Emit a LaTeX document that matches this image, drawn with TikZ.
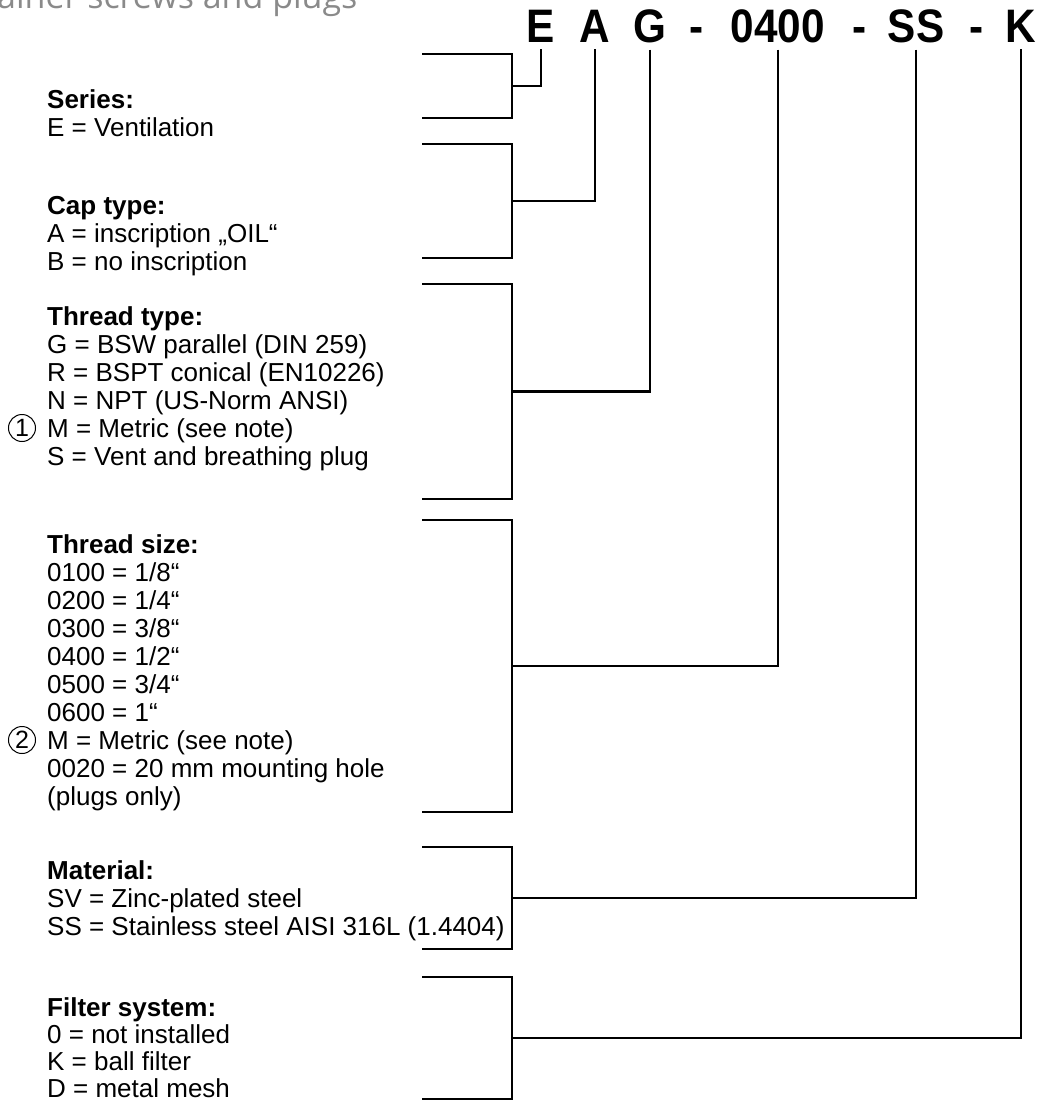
\documentclass[tikz,border=0pt]{standalone}
\usepackage{fontspec}
\setmainfont{Liberation Sans}
\newfontfamily\titlefont{Open Sans}
\usetikzlibrary{calc, positioning}
\definecolor{titlegray}{RGB}{138,138,138}
\newcommand{\codetxt}[1]{\scalebox{0.9}[1]{#1}}

\begin{document}
\begin{tikzpicture}[x=1pt, y=-1pt,
  code/.style={font=\fontsize{47}{47}\selectfont\bfseries, inner sep=0pt, anchor=base},
  entry/.style={font=\fontsize{26}{28}\selectfont, inner sep=0pt, anchor=base west},
  head/.style={entry, font=\fontsize{26}{28}\selectfont\bfseries},
  callout/.style={circle, draw, line width=1pt, minimum size=27pt, inner sep=0pt, font=\fontsize{25}{25}\selectfont},
  link/.style={line width=2.6pt}]
\useasboundingbox (0,0) rectangle (1038,1102);
\clip (0,0) rectangle (1038,1102);

% Title, cut off at the top edge
\node[titlegray, font=\titlefont\fontsize{34}{34}\selectfont, inner sep=0pt, anchor=base west] (title) at (-3,9) {ainer screws and plugs};

% Order code
\node[code] (cE) at (541,43) {\codetxt{E}};
\node[code] (cA) at (595,43) {\codetxt{A}};
\node[code] (cG) at (650,43) {\codetxt{G}};
\node[code] (d1) at (697,43) {\codetxt{-}};
\node[code] (cSize) at (778,43) {\codetxt{0400}};
\node[code] (d2) at (860,43) {\codetxt{-}};
\node[code] (cMat) at (916,43) {\codetxt{SS}};
\node[code] (d3) at (977,43) {\codetxt{-}};
\node[code] (cK) at (1021,43) {\codetxt{K}};

% Series
\node[head] (serH) at (47,109) {Series:};
\foreach \txt [count=\i] in {{E = Ventilation}}
  \node[entry] (ser\i) at (47,{109+28*\i}) {\txt};

% Cap type
\node[head] (capH) at (47,214) {Cap type:};
\foreach \txt [count=\i] in {{A = inscription „OIL“}, {B = no inscription}}
  \node[entry] (cap\i) at (47,{214+28*\i}) {\txt};

% Thread type
\node[head] (thrH) at (47,325) {Thread type:};
\foreach \txt [count=\i] in {{G = BSW parallel (DIN 259)}, {R = BSPT conical (EN10226)},
    {N = NPT (US-Norm ANSI)}, {M = Metric (see note)}, {S = Vent and breathing plug}}
  \node[entry] (thr\i) at (47,{325+28*\i}) {\txt};

% Thread size
\node[head] (sizH) at (47,553) {Thread size:};
\foreach \txt [count=\i] in {{0100 = 1/8“}, {0200 = 1/4“}, {0300 = 3/8“}, {0400 = 1/2“},
    {0500 = 3/4“}, {0600 = 1“}, {M = Metric (see note)}, {0020 = 20 mm mounting hole}, {(plugs only)}}
  \node[entry] (siz\i) at (47,{553+28*\i}) {\txt};

% Material
\node[head] (matH) at (47,879) {Material:};
\foreach \txt [count=\i] in {{SV = Zinc-plated steel}, {SS = Stainless steel AISI 316L (1.4404)}}
  \node[entry] (mat\i) at (47,{879+28*\i}) {\txt};

% Filter system
\node[head] (filH) at (47,1016) {Filter system:};
\foreach \txt [count=\i] in {{0 = not installed}, {K = ball filter}, {D = metal mesh}}
  \node[entry] (fil\i) at (47,{1016+27*\i}) {\txt};

% Notes on the metric entries
\node[callout] (note1) at (22,428) {1};
\node[callout] (note2) at (22,740) {2};

% Brackets
\foreach \nm/\top/\bot in {ser/54/118, cap/144/258, thr/284/499, siz/520/812, mat/847/949, fil/977/1099} {
  \draw[link] (422,\top) -- (512,\top) -- (512,\bot) -- (422,\bot);
  \coordinate (\nm) at (512,{(\top+\bot)/2});
}

% Code letters to brackets
\draw[link] (cE.south) ++(0,6) |- (ser);
\draw[link] (cA.south) ++(0,6) |- (cap);
\draw[link] (cG.south) ++(0,6) |- (thr);
\draw[link] (cSize.south) ++(0,6) |- (siz);
\draw[link] (cMat.south) ++(0,6) |- (mat);
\draw[link] (cK.south) ++(0,6) |- (fil);

\end{tikzpicture}
\end{document}
